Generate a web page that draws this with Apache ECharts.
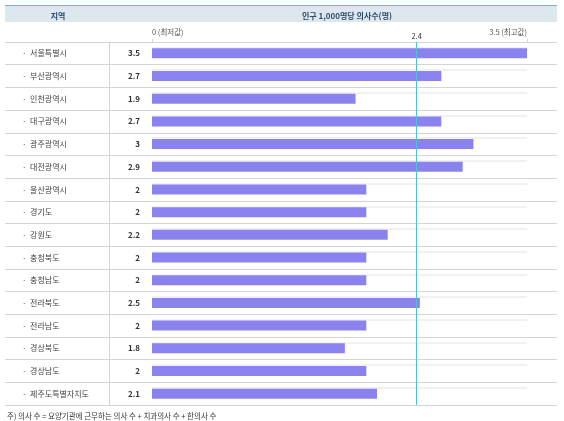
<!DOCTYPE html>
<html>
<head>
<meta charset="utf-8">
<title>인구 1,000명당 의사수</title>
<script src="https://cdn.jsdelivr.net/npm/echarts@6/dist/echarts.min.js"></script>
<style>
  html, body { margin: 0; padding: 0; background: #fff; }
  #chart { width: 564px; height: 421px; }
</style>
</head>
<body>
<div id="chart"></div>
<script type="text/javascript">
// 지역별 인구 1,000명당 의사수(명)
var regions = ['서울특별시', '부산광역시', '인천광역시', '대구광역시', '광주광역시', '대전광역시', '울산광역시', '경기도',
               '강원도', '충청북도', '충청남도', '전라북도', '전라남도', '경상북도', '경상남도', '제주도특별자치도'];
var doctors = [3.5, 2.7, 1.9, 2.7, 3, 2.9, 2, 2, 2.2, 2, 2, 2.5, 2, 1.8, 2, 2.1];
var minValue = 0, maxValue = 3.5;
var avgValue = 2.47;   // 선 위치
var avgLabel = '2.4';
var note = '주) 의사 수 = 요양기관에 근무하는 의사 수 + 치과의사 수 + 한의사 수';

var font = 'Noto Sans CJK KR';
var chart = echarts.init(document.getElementById('chart'));

var option = {
    animation: false,
    textStyle: { fontFamily: font },
    title: [
        { text: '지역', left: 53, top: 7, textAlign: 'center',
          textStyle: { fontSize: 8, fontWeight: 'bold', color: '#2f4b6e', fontFamily: font } },
        { text: '인구 1,000명당 의사수(명)', left: 342, top: 7, textAlign: 'center',
          textStyle: { fontSize: 8, fontWeight: 'bold', color: '#2f4b6e', fontFamily: font } },
        { text: note, left: 2, top: 407,
          textStyle: { fontSize: 7.5, fontWeight: 'normal', color: '#333', fontFamily: font } }
    ],
    graphic: [
        { type: 'rect', z: -1, shape: { x: 5, y: 5, width: 552, height: 17 },
          style: { fill: '#dde8ee' } },
        { type: 'line', z: -1, shape: { x1: 5, y1: 5.5, x2: 557, y2: 5.5 },
          style: { stroke: '#7eaed0', lineWidth: 1 } }
    ],
    grid: [
        // 표 행 구분선 + 지역명
        { left: 5, right: 7, top: 42, height: 363 },
        // 막대
        { left: 152, right: 37, top: 42, height: 363 },
        // 막대 위 옅은 트랙선
        { left: 152, right: 37, top: 47.5, height: 340.3 }
    ],
    xAxis: [
        { gridIndex: 0, type: 'value', show: false },
        { gridIndex: 1, type: 'value', position: 'top', min: minValue, max: maxValue, interval: maxValue - minValue,
          axisLine: { show: false },
          axisTick: { show: true, length: 3, lineStyle: { color: '#d6d6d6' } },
          splitLine: { show: false },
          axisLabel: {
              margin: 6, fontSize: 7.5, color: '#555',
              alignMinLabel: 'left', alignMaxLabel: 'right',
              formatter: function (v) {
                  if (v === minValue) return v + ' (최저값)';
                  if (v === maxValue) return v + ' (최고값)';
                  return '';
              }
          } },
        { gridIndex: 2, type: 'value', show: false, min: minValue, max: maxValue }
    ],
    yAxis: [
        { gridIndex: 0, type: 'category', inverse: true, data: regions,
          axisLine: { show: false }, axisTick: { show: false },
          splitLine: { show: true, lineStyle: { color: '#d4d4d4', width: 1 } },
          axisLabel: { align: 'left', margin: -17, fontSize: 8, color: '#444',
                       formatter: function (v) { return '·  ' + v; } } },
        { gridIndex: 1, type: 'category', inverse: true, data: regions, offset: 43,
          axisLine: { show: true, onZero: false, lineStyle: { color: '#d4d4d4' } }, axisTick: { show: false },
          axisLabel: { margin: -31, align: 'right', fontSize: 8, fontWeight: 'bold', color: '#333',
                       formatter: function (v, i) { return String(doctors[i]); } } },
        { gridIndex: 2, type: 'category', inverse: true, data: regions, boundaryGap: false,
          axisLine: { show: false }, axisTick: { show: false }, axisLabel: { show: false },
          splitLine: { show: true, lineStyle: { color: '#ededed', width: 1.5 } } }
    ],
    series: [
        {
            name: '의사수',
            type: 'bar',
            xAxisIndex: 1,
            yAxisIndex: 1,
            data: doctors,
            barWidth: 10,
            itemStyle: { color: '#8a83ef' },
            z: 3,
            markLine: {
                silent: true,
                symbol: 'none',
                lineStyle: { color: '#52bfd6', width: 1, type: 'solid' },
                label: { show: true, position: 'start', formatter: avgLabel, fontSize: 7.5, color: '#333', distance: 2 },
                data: [{ xAxis: avgValue }]
            }
        }
    ]
};
chart.setOption(option);
</script>
</body>
</html>
